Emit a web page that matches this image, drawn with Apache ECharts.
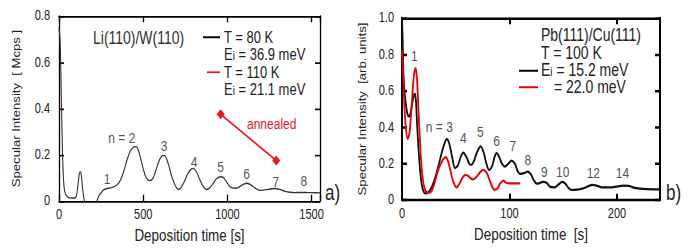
<!DOCTYPE html>
<html><head><meta charset="utf-8">
<script src="https://cdn.jsdelivr.net/npm/echarts@6/dist/echarts.min.js"></script>
<style>html,body{margin:0;padding:0;background:#fff;}
body{width:692px;height:250px;}
#c{width:692px;height:200px;transform:scaleY(1.25);transform-origin:0 0;}</style>
</head><body><div id="c"></div>
<script>
// ---- Panel a) Li(110)/W(110), T = 80 K ----
const leftTime = [0,6,10,14,18,22,27,33,42,55,75,95,102,108,115,121,126,131,137,143,150,158,170,200,222,235,250,265,280,294,320,344,365,385,405,425,445,458,470,485,500,515,537,555,570,585,600,615,626,640,655,670,690,709,725,745,765,785,798,815,835,855,877,895,915,935,960,975,995,1015,1045,1065,1085,1100,1117,1140,1165,1190,1215,1240,1265,1285,1310,1340,1370,1400,1430,1460,1500,1550];
const leftValue = [0.75,0.70,0.60,0.45,0.30,0.18,0.09,0.045,0.025,0.016,0.013,0.013,0.02,0.04,0.085,0.118,0.127,0.118,0.08,0.035,0.005,-0.01,-0.03,-0.03,-0.005,0.02,0.036,0.048,0.053,0.055,0.06,0.069,0.09,0.13,0.18,0.218,0.234,0.235,0.222,0.185,0.14,0.105,0.088,0.095,0.12,0.155,0.183,0.196,0.196,0.18,0.145,0.105,0.068,0.05,0.058,0.085,0.118,0.138,0.141,0.128,0.095,0.065,0.05,0.057,0.075,0.096,0.105,0.102,0.083,0.062,0.055,0.058,0.068,0.074,0.077,0.07,0.056,0.046,0.047,0.05,0.053,0.054,0.05,0.043,0.038,0.036,0.037,0.037,0.036,0.035];
const annealedTime = [960, 1290];
const annealedValue = [0.375, 0.175];
const leftLabelText = ['1','n = 2','3','4','5','6','7','8'];
const leftLabelTime = [285,373,624,802,960,1114,1288,1454];
const leftLabelValue = [0.095,0.272,0.238,0.169,0.147,0.117,0.082,0.086];
const leftXTicks = [0,500,1000,1500];
const leftYTicks = [0,0.2,0.4,0.6,0.8];

// ---- Panel b) Pb(111)/Cu(111), T = 100 K ----
const rightBlackTime = [0,0.6,1.2,2,3.5,5,6.5,8,9.5,11,12,13,14,15.5,17,18.5,20,21.5,23,25,28,31,34,37,39.5,41.6,44,46.5,49.3,52,54.5,57,60,62.5,64.5,67,70,73.2,76,78.5,81,84,86,88,90.5,93,95.5,99,102,105,107.5,110,113.5,117,120,122.5,125.3,128,131,134.5,138,142,145.5,149,152,155,158,163,168.5,173,177,181,186,193,200,206,211,218,228,240];
const rightBlackValue = [1.0,0.88,0.72,0.62,0.53,0.475,0.46,0.48,0.53,0.575,0.585,0.54,0.42,0.27,0.15,0.08,0.048,0.037,0.037,0.045,0.075,0.125,0.19,0.26,0.31,0.334,0.31,0.24,0.175,0.19,0.235,0.26,0.235,0.2,0.193,0.215,0.265,0.294,0.26,0.2,0.165,0.19,0.235,0.257,0.235,0.2,0.184,0.2,0.217,0.2,0.16,0.143,0.148,0.156,0.14,0.11,0.09,0.093,0.1,0.095,0.072,0.07,0.085,0.1,0.09,0.065,0.055,0.057,0.064,0.075,0.083,0.079,0.07,0.069,0.074,0.079,0.077,0.065,0.06,0.058];
const rightRedTime = [0,1,2,3.5,5.3,7,9,11,12.7,14,15.5,17,18.5,20,21.5,23,25,27,29,31,34,37.5,40.6,43,45.5,48,50.9,53.5,56.5,59.3,62,64.5,66.4,69,72.5,75.7,79,82,84.5,86.5,89,91.5,94.3,96.5,99,103,110];
const rightRedValue = [0.82,0.7,0.55,0.4,0.334,0.37,0.52,0.68,0.725,0.66,0.47,0.29,0.16,0.09,0.055,0.042,0.04,0.045,0.07,0.11,0.17,0.215,0.235,0.21,0.15,0.095,0.07,0.09,0.125,0.138,0.13,0.116,0.114,0.125,0.152,0.165,0.148,0.1,0.066,0.055,0.065,0.092,0.106,0.096,0.092,0.092,0.092];
const rightLabelText = ['1','n = 3','4','5','6','7','8','9','10','12','14'];
const rightLabelTime = [11.4,34.7,57,72.8,88,103,117,132.4,149.5,178,205];
const rightLabelValue = [0.79,0.402,0.342,0.371,0.325,0.299,0.217,0.153,0.153,0.147,0.147];
const rightXTicks = [0,100,200];
const rightYTicks = [0,0.2,0.4,0.6,0.8,1.0];

const zip = (a, b) => a.map((v, i) => [v, b[i]]);
const labelData = (txt, t, v) => txt.map((s, i) => ({ name: s, value: [t[i], v[i]] }));
const FONT = '"Liberation Sans", Arial, sans-serif';
const TXT = '#222';

function xAx(grid, pos, ticks, max, lw, name, gap) {
  return {
    type: 'value', gridIndex: grid, position: pos, min: ticks[0], max: max,
    interval: ticks[1] - ticks[0],
    axisLine: { show: true, onZero: false, lineStyle: { color: '#000', width: lw } },
    axisTick: { show: true, inside: true, length: 5, lineStyle: { color: '#000', width: lw } },
    axisLabel: { show: pos === 'bottom', margin: 5, color: TXT, fontSize: 11, fontFamily: FONT,
      formatter: v => ticks.includes(v) ? String(v) : '' },
    splitLine: { show: false },
    name: pos === 'bottom' ? name : '', nameLocation: 'middle', nameGap: gap,
    nameTextStyle: { color: TXT, fontSize: 13.4, fontFamily: FONT }
  };
}
function yAx(grid, pos, ticks, lw, name, gap, margin) {
  return {
    type: 'value', gridIndex: grid, position: pos, min: ticks[0], max: ticks[ticks.length - 1],
    interval: ticks[1] - ticks[0],
    axisLine: { show: true, onZero: false, lineStyle: { color: '#000', width: lw } },
    axisTick: { show: true, inside: true, length: 5, lineStyle: { color: '#000', width: lw } },
    axisLabel: { show: pos === 'left', margin: margin, color: TXT, fontSize: 11, fontFamily: FONT,
      formatter: v => v === 0 ? '0' : v.toFixed(1) },
    splitLine: { show: false },
    name: pos === 'left' ? name : '', nameLocation: 'middle', nameGap: gap, nameRotate: 90,
    nameTextStyle: { color: TXT, fontSize: 10.5, fontFamily: FONT }
  };
}

const subRich = { s: { fontSize: 10, fontFamily: FONT, fill: TXT, lineHeight: 11, padding: [2, 0, 0, 0] } };
function txt(x, y, text, opts) {
  opts = opts || {};
  return { type: 'text', x: x, y: y, silent: true,
    style: { text: text, fill: opts.fill || TXT, font: (opts.size || 14) + 'px ' + FONT,
      lineHeight: opts.lh || 11, align: opts.align || 'left', verticalAlign: 'middle', rich: subRich } };
}
function seg(x1, x2, y, color, w) {
  return { type: 'line', silent: true, shape: { x1: x1, y1: y, x2: x2, y2: y },
    style: { stroke: color, lineWidth: w } };
}

const chart = echarts.init(document.getElementById('c'), null, { renderer: 'svg' });
chart.setOption({
  animation: false,
  backgroundColor: '#fff',
  grid: [
    { left: 59, right: 372, top: 12.8, bottom: 39.2 },
    { left: 402, right: 32, top: 14.4, bottom: 40 }
  ],
  xAxis: [
    xAx(0, 'bottom', leftXTicks, 1550, 1.3, 'Deposition time [s]', 15.5),
    xAx(0, 'top', leftXTicks, 1550, 1.3, '', 0),
    xAx(1, 'bottom', rightXTicks, 240, 2, 'Deposition time  [s]', 16),
    xAx(1, 'top', rightXTicks, 240, 2, '', 0)
  ],
  yAxis: [
    yAx(0, 'left', leftYTicks, 1.3, 'Specular Intensity  [ Mcps ]', 37, 9),
    yAx(0, 'right', leftYTicks, 1.3, '', 0, 0),
    yAx(1, 'left', rightYTicks, 2, 'Specular Intensity  [arb. units]', 34, 8),
    yAx(1, 'right', rightYTicks, 2, '', 0, 0)
  ],
  series: [
    { type: 'line', xAxisIndex: 0, yAxisIndex: 0, data: zip(leftTime, leftValue), showSymbol: false,
      smooth: 0.3, clip: true, lineStyle: { color: '#333', width: 1.1 }, silent: true },
    { type: 'line', xAxisIndex: 0, yAxisIndex: 0, data: zip(annealedTime, annealedValue),
      symbol: 'diamond', symbolSize: 8, showSymbol: true, itemStyle: { color: '#f0141e' },
      lineStyle: { color: '#f0141e', width: 1.4 }, silent: true },
    { type: 'scatter', xAxisIndex: 0, yAxisIndex: 0, symbolSize: 0, silent: true,
      data: labelData(leftLabelText, leftLabelTime, leftLabelValue),
      label: { show: true, position: 'inside', formatter: '{b}', color: TXT, fontSize: 12, fontFamily: FONT } },
    { type: 'line', xAxisIndex: 2, yAxisIndex: 2, data: zip(rightBlackTime, rightBlackValue), showSymbol: false,
      smooth: 0.3, clip: true, lineStyle: { color: '#111', width: 1.8 }, silent: true },
    { type: 'line', xAxisIndex: 2, yAxisIndex: 2, data: zip(rightRedTime, rightRedValue), showSymbol: false,
      smooth: 0.3, clip: true, lineStyle: { color: '#e8000b', width: 1.8 }, silent: true },
    { type: 'scatter', xAxisIndex: 2, yAxisIndex: 2, symbolSize: 0, silent: true,
      data: labelData(rightLabelText, rightLabelTime, rightLabelValue),
      label: { show: true, position: 'inside', formatter: '{b}', color: TXT, fontSize: 12, fontFamily: FONT } }
  ],
  graphic: [
    txt(93, 30.4, 'Li(110)/W(110)', { fill: '#333' }),
    seg(203, 220, 29.8, '#000', 1.6),
    txt(224, 29.8, 'T = 80 K', { size: 13 }),
    txt(224, 43.6, 'E{s|i} = 36.9 meV', { size: 13 }),
    seg(207, 220, 57.8, '#f0141e', 1.4),
    txt(224, 57.8, 'T = 110 K', { size: 13 }),
    txt(224, 71.6, 'E{s|i} = 21.1 meV', { size: 13 }),
    txt(271.7, 99.2, 'annealed', { fill: '#f0141e', size: 12, align: 'center' }),
    txt(325, 154, 'a)', { size: 17, lh: 16 }),
    txt(541, 28, 'Pb(111)/Cu(111)'),
    txt(541, 42.4, 'T = 100 K'),
    seg(519, 538, 56.6, '#000', 1.6),
    txt(541, 56, 'E{s|i} = 15.2 meV'),
    seg(519, 538, 69.8, '#e8000b', 1.6),
    txt(554, 69.6, '= 22.0 meV'),
    txt(666, 154, 'b)', { size: 17, lh: 16 })
  ]
});
</script></body></html>
